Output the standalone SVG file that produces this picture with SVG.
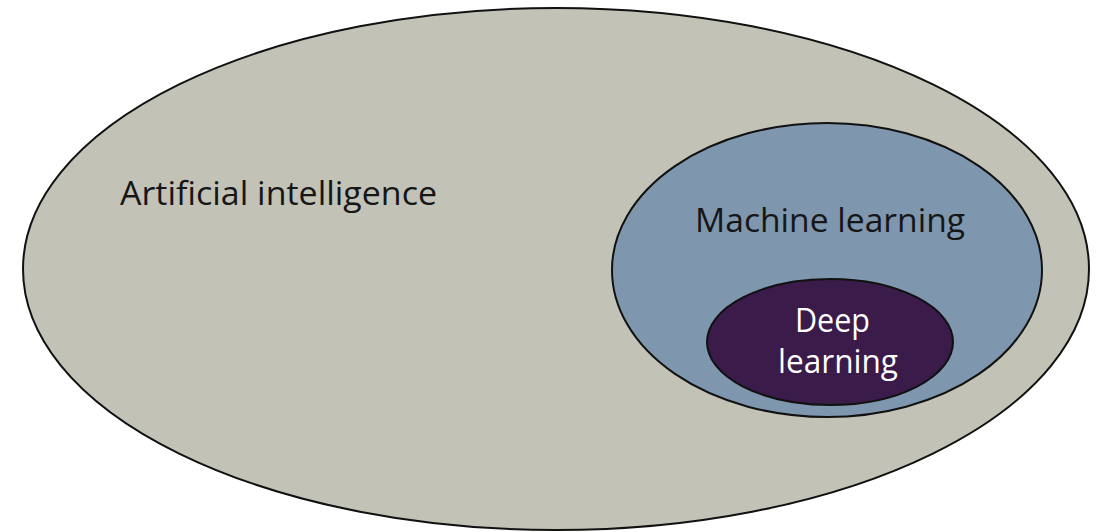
<svg xmlns="http://www.w3.org/2000/svg" width="1105" height="532" viewBox="0 0 1105 532">
  <style>
    .set { stroke: #111; stroke-width: 2; }
    .label { font-family: "Open Sans", "Liberation Sans", sans-serif; font-size: 32px; }
    .dark { fill: #161616; }
    .light { fill: #ffffff; }
  </style>
  <rect width="1105" height="532" fill="#ffffff"/>
  <g id="ai">
    <ellipse class="set" cx="556" cy="269" rx="533" ry="261" fill="#c2c2b6"/>
    <text class="label dark" x="120" y="205" textLength="317" lengthAdjust="spacingAndGlyphs">Artificial intelligence</text>
  </g>
  <g id="ml">
    <ellipse class="set" cx="827" cy="270" rx="215" ry="147" fill="#7f97ae"/>
    <text class="label dark" x="695" y="232" textLength="270" lengthAdjust="spacingAndGlyphs">Machine learning</text>
  </g>
  <g id="dl">
    <ellipse class="set" cx="830" cy="342" rx="123" ry="63" fill="#3a1b4a"/>
    <text class="label light" x="795" y="332" textLength="75" lengthAdjust="spacingAndGlyphs">Deep</text>
    <text class="label light" x="778" y="373" textLength="120" lengthAdjust="spacingAndGlyphs">learning</text>
  </g>
  <g id="connectors"/>
</svg>
